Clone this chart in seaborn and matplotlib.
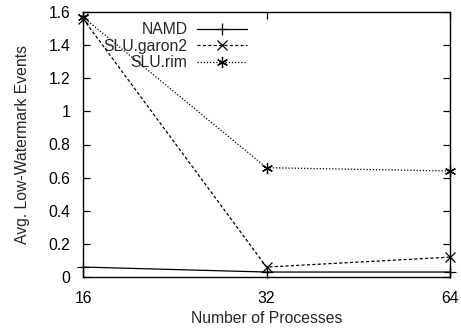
import matplotlib
matplotlib.use("Agg")
import matplotlib.pyplot as plt
import seaborn as sns
import pandas as pd

processes = [16, 32, 64]
namd = [0.06, 0.03, 0.03]
slu_garon2 = [1.56, 0.06, 0.12]
slu_rim = [1.57, 0.66, 0.64]
series_names = ["NAMD", "SLU.garon2", "SLU.rim"]
x_ticks = [16, 32, 64]
y_ticks = [0, 0.2, 0.4, 0.6, 0.8, 1, 1.2, 1.4, 1.6]
y_tick_labels = ["0", "0.2", "0.4", "0.6", "0.8", "1", "1.2", "1.4", "1.6"]

sns.set_style("ticks")
plt.rcParams['font.family'] = ['Liberation Sans', 'DejaVu Sans']

fig = plt.figure(figsize=(4.61, 3.28), dpi=100)
ax = fig.add_axes([83/461, 1-277/328, (450-83)/461, (277-12)/328])

styles = {
    "NAMD": dict(linestyle="-", marker="+", lw=0.9, ms=8, mew=0.9),
    "SLU.garon2": dict(linestyle=(0, (2.5, 1.8)), marker="x", lw=0.9, ms=7, mew=0.9),
    "SLU.rim": dict(linestyle=(0, (1, 1.5)), marker=(6, 2, 0), lw=0.9, ms=8, mew=0.9),
}
data = {"NAMD": namd, "SLU.garon2": slu_garon2, "SLU.rim": slu_rim}

for name in series_names:
    df = pd.DataFrame({"x": processes, "y": data[name]})
    st = styles[name]
    sns.lineplot(data=df, x="x", y="y", ax=ax, color="black", label=name,
                 linestyle=st["linestyle"], marker=st["marker"], lw=st["lw"],
                 markersize=st["ms"], markeredgewidth=st["mew"], markeredgecolor="black",
                 clip_on=False)

ax.set_xscale("log", base=2)
ax.set_xlim(16, 64)
ax.set_ylim(0, 1.6)
ax.set_xticks(x_ticks)
ax.set_xticklabels([str(v) for v in x_ticks])
ax.minorticks_off()
ax.set_yticks(y_ticks)
ax.set_yticklabels(y_tick_labels)
ax.tick_params(direction="in", top=True, right=True, length=5, width=0.9,
               labelsize=11.3, colors="black")
ax.tick_params(axis="y", pad=9)
ax.tick_params(axis="x", pad=10)
for s in ax.spines.values():
    s.set_linewidth(1.0)
    s.set_color("black")
ax.set_xlabel("Number of Processes", fontsize=11.3, labelpad=4)
ax.set_ylabel("Avg. Low-Watermark Events", fontsize=11.3, labelpad=13)

leg = ax.legend(loc="upper right", bbox_to_anchor=(0.475, 1.0), frameon=False,
                markerfirst=False, fontsize=11.3, handlelength=3.2,
                handletextpad=0.6, labelspacing=0.1, borderaxespad=0.25)
for t in leg.get_texts():
    t.set_ha("right")

fig.savefig("out.png", dpi=100)
